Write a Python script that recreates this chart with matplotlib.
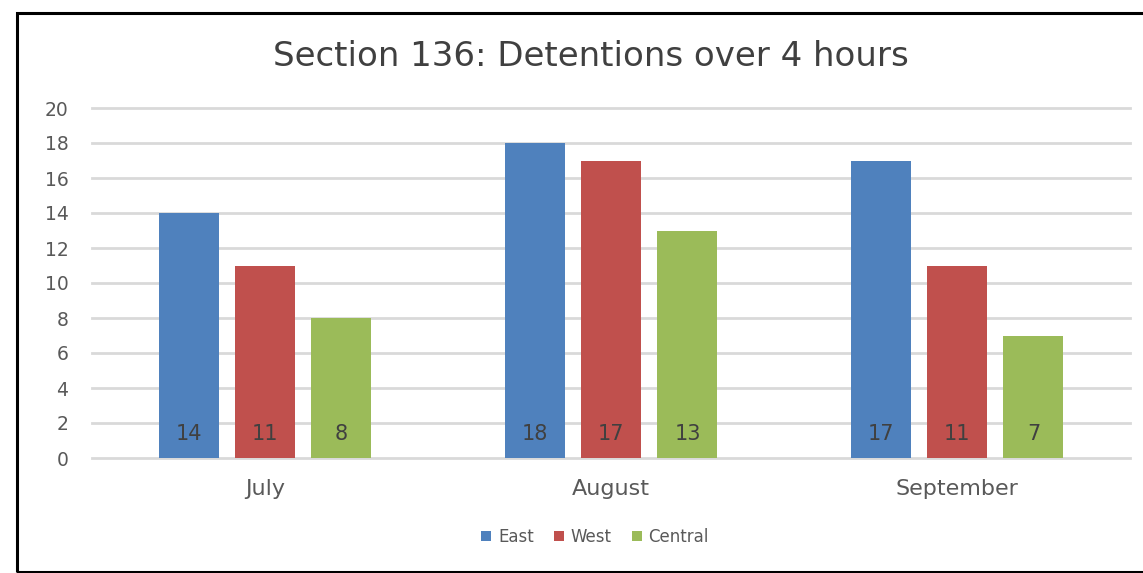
import matplotlib
matplotlib.use("Agg")
import matplotlib.pyplot as plt
from matplotlib.patches import Rectangle
import numpy as np

months = ["July", "August", "September"]
series_names = ["East", "West", "Central"]
east = [14, 18, 17]
west = [11, 17, 11]
central = [8, 13, 7]
colors = ["#4F81BD", "#C0504D", "#9BBB59"]
y_ticks = [0, 2, 4, 6, 8, 10, 12, 14, 16, 18, 20]

plt.rcParams["font.family"] = ["DejaVu Sans"]

W, H = 1143, 573
fig = plt.figure(figsize=(W / 100, H / 100), dpi=100)
fig.patch.set_facecolor("white")

# plot area in pixel terms
left, right, top, bottom = 92, 1130, 108, 458
ax = fig.add_axes([left / W, 1 - bottom / H, (right - left) / W, (bottom - top) / H])

x = np.arange(len(months))
width = 0.1734
step = 0.221
for i, (name, vals, c) in enumerate(zip(series_names, [east, west, central], colors)):
    xs = x + (i - 1) * step
    ax.bar(xs, vals, width=width, color=c, label=name, zorder=3)
    for xv, v in zip(xs, vals):
        ax.text(xv, 1.4, str(v), ha="center", va="center", fontsize=15,
                color="#404040", zorder=4)

ax.set_xlim(-0.5, 2.5)
ax.set_ylim(0, 20)
ax.set_yticks(y_ticks)
ax.set_yticklabels([str(t) for t in y_ticks])
ax.set_xticks(x)
ax.set_xticklabels(months)
ax.grid(axis="y", color="#D9D9D9", linewidth=2, zorder=0)
for gl in ax.get_ygridlines():
    gl.set_clip_on(False)
ax.set_axisbelow(True)
for s in ax.spines.values():
    s.set_visible(False)
ax.tick_params(axis="both", length=0, colors="#595959")
ax.tick_params(axis="y", labelsize=13.5, pad=17)
ax.tick_params(axis="x", labelsize=16, pad=15)

fig.text(591 / W, 1 - 56 / H, "Section 136: Detentions over 4 hours",
         ha="center", va="center", fontsize=24.5, color="#404040")

leg = fig.legend(loc="center", bbox_to_anchor=(595 / W, 1 - 537 / H), ncol=3,
                 frameon=False, fontsize=12, handlelength=0.6, handleheight=0.6,
                 handletextpad=0.4, columnspacing=1.2, labelcolor="#595959")

# chart outline
fig.patches.append(Rectangle((17 / W, 1 - 572 / H), 1.2, (572 - 13) / H,
                             transform=fig.transFigure, fill=False,
                             edgecolor="black", linewidth=2.2))

fig.savefig("out.png", dpi=100)
